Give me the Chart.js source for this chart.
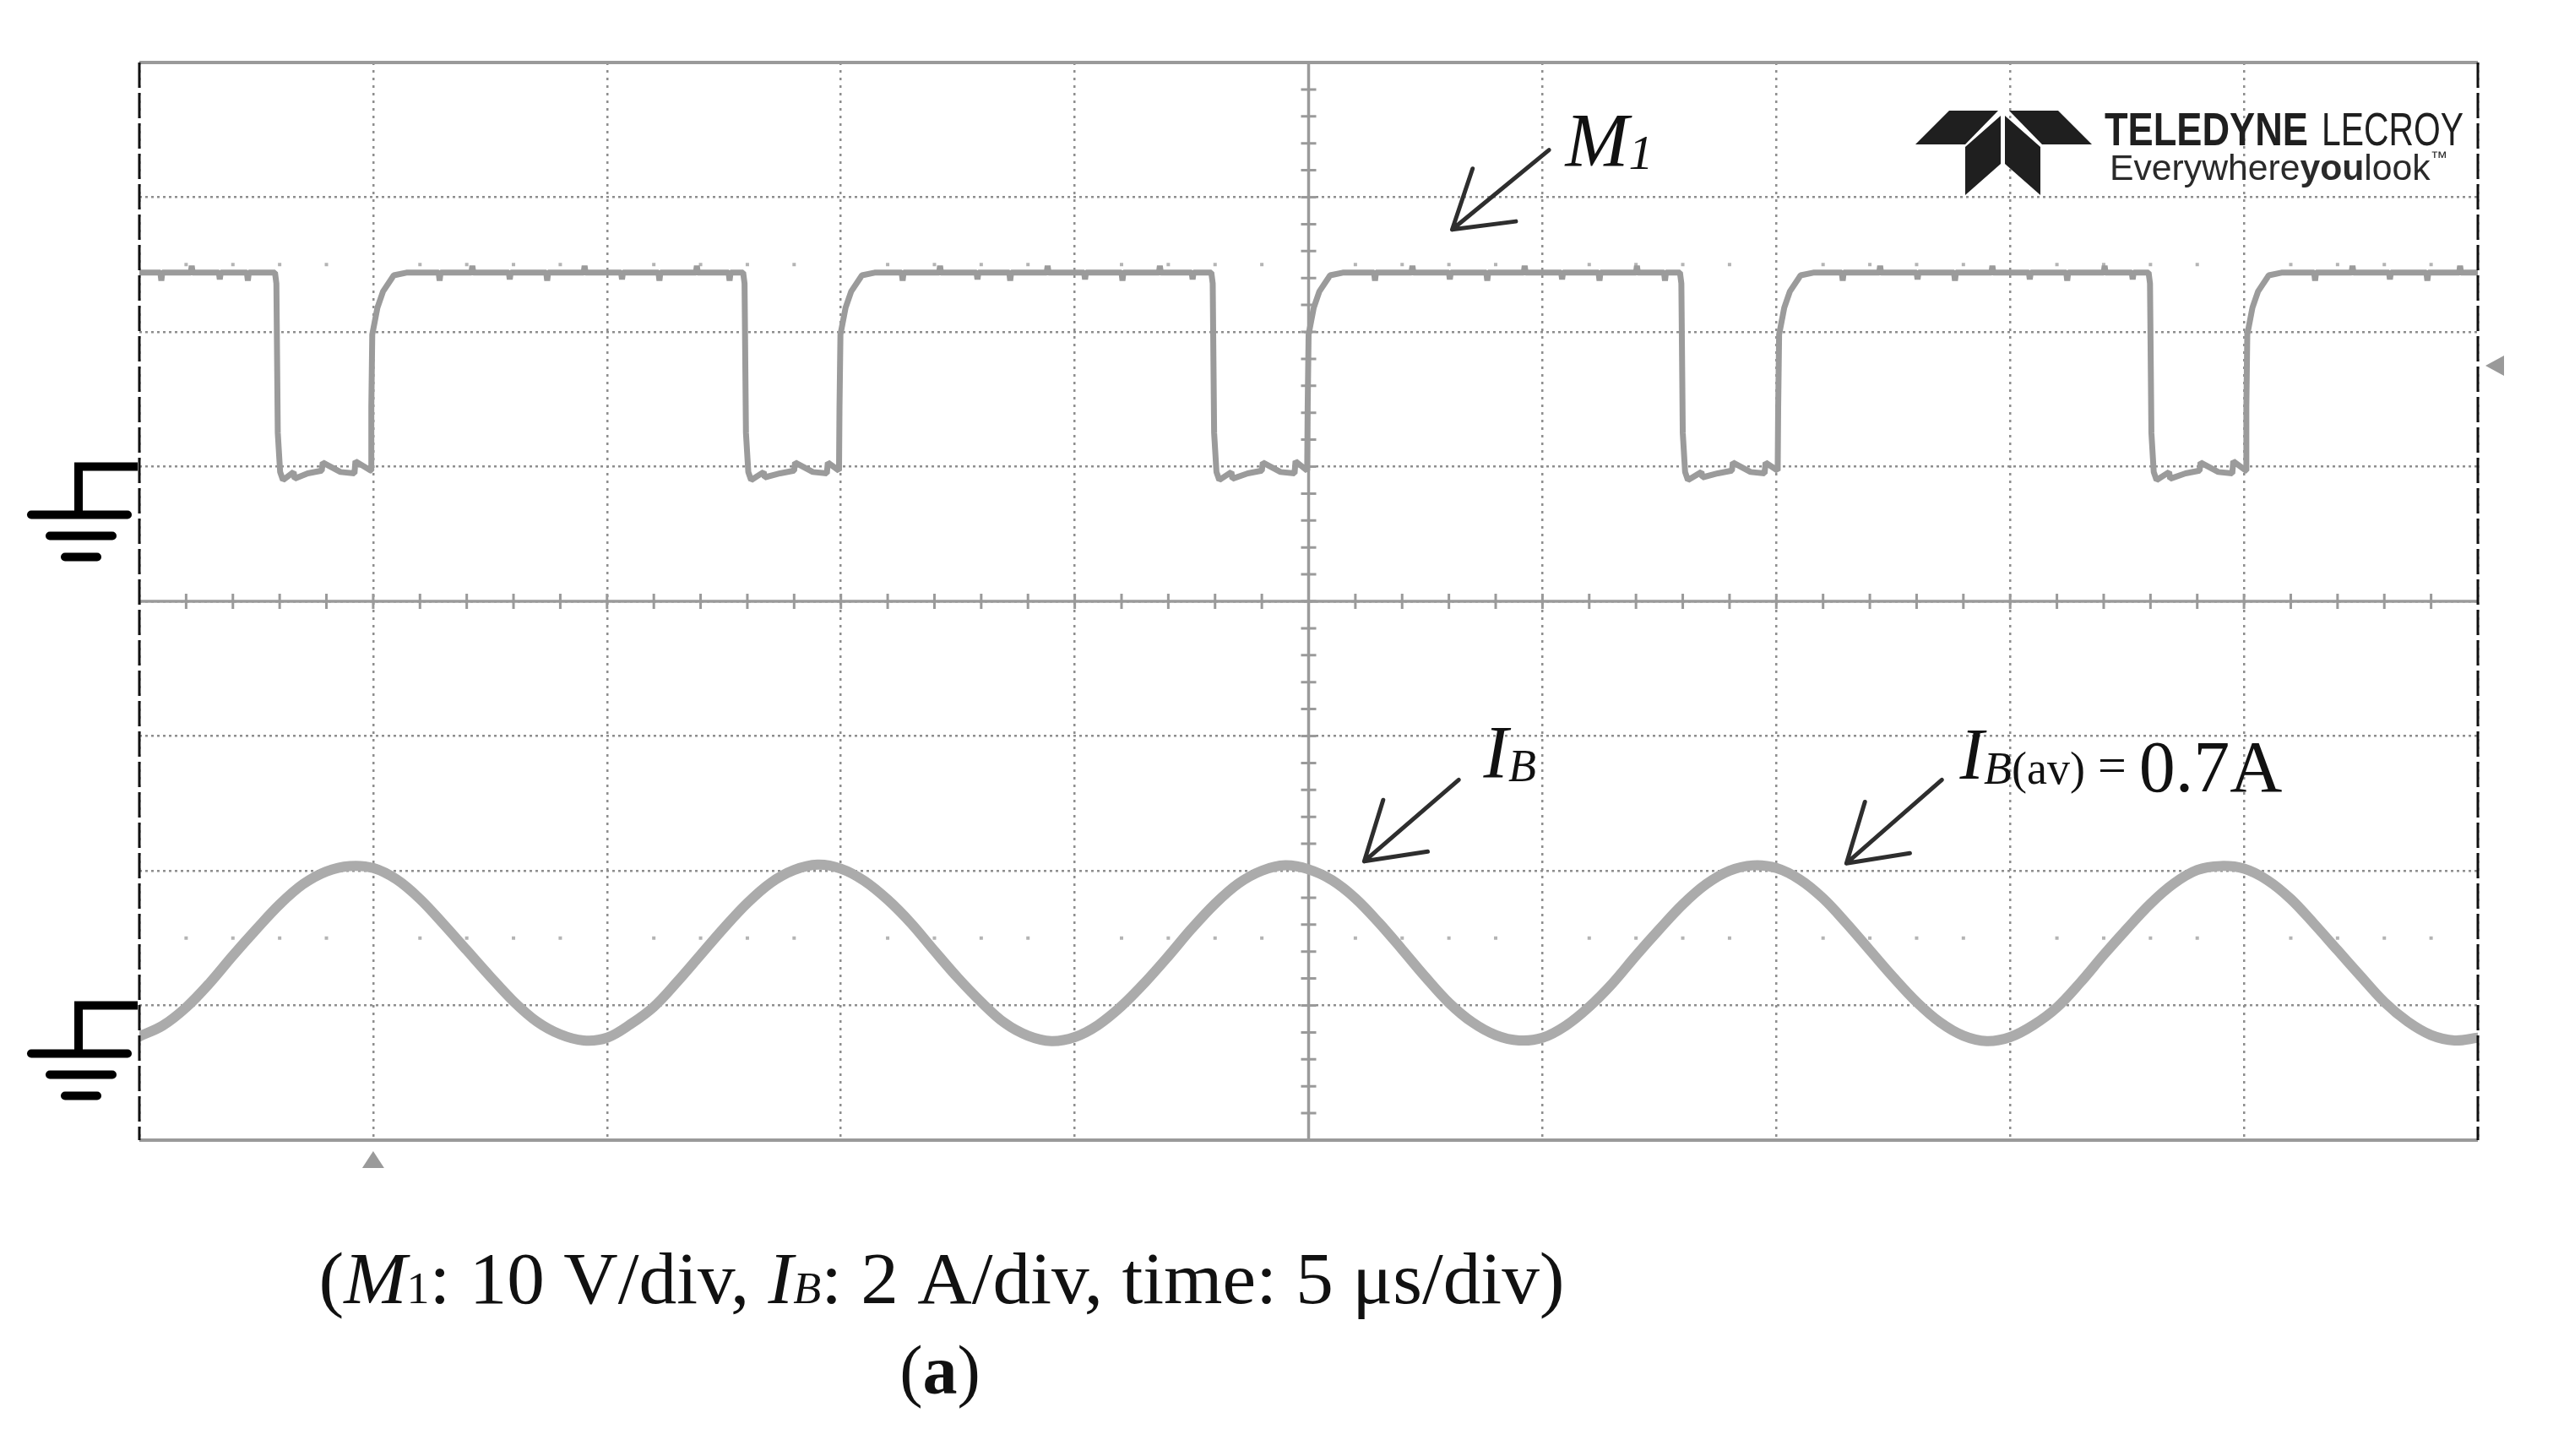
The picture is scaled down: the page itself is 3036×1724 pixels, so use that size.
<!DOCTYPE html>
<html>
<head>
<meta charset="utf-8">
<script src="https://cdn.jsdelivr.net/npm/chart.js@4.4.0/dist/chart.umd.min.js"></script>
<style>
    html, body { margin: 0; padding: 0; background: #fff; }
    #wrap { width: 3036px; height: 1724px; position: relative; }
</style>
</head>
<body>
<div id="wrap"><canvas id="scopeChart"></canvas></div>
<script>
// M1 trace: [time (µs), voltage (V)] (10 V/div)
const m1Trace = [
    [0, 14.4], [0.45, 14.4], [0.47, 13.8], [0.49, 14.4], [1.10, 14.4], [1.12, 14.9], [1.14, 14.4],
    [1.70, 14.4], [1.72, 13.9], [1.74, 14.4], [2.30, 14.4], [2.32, 13.8], [2.34, 14.4],
    [2.90, 14.4], [2.93, 13.6], [2.96, 2.5], [3.01, -0.4], [3.07, -1.0], [3.30, -0.4], [3.32, -0.9],
    [3.60, -0.5], [3.90, -0.3], [3.92, 0.3], [4.30, -0.4], [4.60, -0.5], [4.62, 0.4], [4.95, -0.3],
    [4.96, 4.4], [4.98, 9.8], [5.09, 11.8], [5.21, 13.0], [5.44, 14.2], [5.71, 14.4],
    [6.40, 14.4], [6.42, 13.8], [6.44, 14.4], [7.10, 14.4], [7.12, 14.9], [7.14, 14.4],
    [7.90, 14.4], [7.92, 13.9], [7.94, 14.4], [8.70, 14.4], [8.72, 13.8], [8.74, 14.4],
    [9.50, 14.4], [9.52, 14.9], [9.54, 14.4], [10.30, 14.4], [10.32, 13.9], [10.34, 14.4],
    [11.10, 14.4], [11.12, 13.8], [11.14, 14.4], [11.90, 14.4], [11.92, 14.9], [11.94, 14.4],
    [12.60, 14.4], [12.62, 13.8], [12.64, 14.4],
    [12.91, 14.4], [12.94, 13.6], [12.97, 2.5], [13.02, -0.4], [13.08, -1.0], [13.35, -0.4], [13.37, -0.8],
    [13.70, -0.5], [14.00, -0.3], [14.02, 0.3], [14.40, -0.4], [14.70, -0.5], [14.72, 0.3], [14.96, -0.3],
    [14.97, 4.4], [14.99, 9.8], [15.10, 11.8], [15.22, 13.0], [15.45, 14.2], [15.72, 14.4],
    [16.30, 14.4], [16.32, 13.8], [16.34, 14.4], [17.10, 14.4], [17.12, 14.9], [17.14, 14.4],
    [17.90, 14.4], [17.92, 13.9], [17.94, 14.4], [18.60, 14.4], [18.62, 13.8], [18.64, 14.4],
    [19.40, 14.4], [19.42, 14.9], [19.44, 14.4], [20.20, 14.4], [20.22, 13.9], [20.24, 14.4],
    [21.00, 14.4], [21.02, 13.8], [21.04, 14.4], [21.80, 14.4], [21.82, 14.9], [21.84, 14.4],
    [22.50, 14.4], [22.52, 13.9], [22.54, 14.4],
    [22.92, 14.4], [22.95, 13.6], [22.98, 2.5], [23.03, -0.4], [23.09, -1.0], [23.35, -0.4], [23.37, -0.9],
    [23.70, -0.5], [24.00, -0.3], [24.02, 0.3], [24.40, -0.4], [24.70, -0.5], [24.72, 0.4], [24.97, -0.3],
    [24.98, 4.4], [25.00, 9.8], [25.11, 11.8], [25.23, 13.0], [25.46, 14.2], [25.73, 14.4],
    [26.40, 14.4], [26.42, 13.8], [26.44, 14.4], [27.20, 14.4], [27.22, 14.9], [27.24, 14.4],
    [28.00, 14.4], [28.02, 13.9], [28.04, 14.4], [28.80, 14.4], [28.82, 13.8], [28.84, 14.4],
    [29.60, 14.4], [29.62, 14.9], [29.64, 14.4], [30.40, 14.4], [30.42, 13.9], [30.44, 14.4],
    [31.20, 14.4], [31.22, 13.8], [31.24, 14.4], [32.00, 14.4], [32.02, 14.9], [32.04, 14.4],
    [32.60, 14.4], [32.62, 13.8], [32.64, 14.4],
    [32.94, 14.4], [32.97, 13.6], [33.00, 2.5], [33.05, -0.4], [33.11, -1.0], [33.40, -0.4], [33.42, -0.8],
    [33.75, -0.5], [34.05, -0.3], [34.07, 0.3], [34.45, -0.4], [34.75, -0.5], [34.77, 0.3], [35.03, -0.3],
    [35.04, 4.4], [35.06, 9.8], [35.17, 11.8], [35.29, 13.0], [35.52, 14.2], [35.79, 14.4],
    [36.40, 14.4], [36.42, 13.8], [36.44, 14.4], [37.20, 14.4], [37.22, 14.9], [37.24, 14.4],
    [38.00, 14.4], [38.02, 13.9], [38.04, 14.4], [38.80, 14.4], [38.82, 13.8], [38.84, 14.4],
    [39.60, 14.4], [39.62, 14.9], [39.64, 14.4], [40.40, 14.4], [40.42, 13.9], [40.44, 14.4],
    [41.20, 14.4], [41.22, 13.8], [41.24, 14.4], [42.00, 14.4], [42.02, 14.9], [42.04, 14.4],
    [42.60, 14.4], [42.62, 13.9], [42.64, 14.4],
    [42.96, 14.4], [42.99, 13.6], [43.02, 2.5], [43.07, -0.4], [43.13, -1.0], [43.40, -0.4], [43.42, -0.9],
    [43.75, -0.5], [44.05, -0.3], [44.07, 0.3], [44.45, -0.4], [44.75, -0.5], [44.77, 0.4], [45.04, -0.3],
    [45.05, 4.4], [45.07, 9.8], [45.18, 11.8], [45.30, 13.0], [45.53, 14.2], [45.80, 14.4],
    [46.50, 14.4], [46.52, 13.8], [46.54, 14.4], [47.30, 14.4], [47.32, 14.9], [47.34, 14.4],
    [48.10, 14.4], [48.12, 13.9], [48.14, 14.4], [48.90, 14.4], [48.92, 13.8], [48.94, 14.4],
    [49.60, 14.4], [49.62, 14.9], [49.64, 14.4], [50, 14.4]
];

// IB trace (2 A/div), sampled every 0.5 µs
const ibTime = [
    0, 0.5, 1, 1.5, 2, 2.5, 3, 3.5, 4, 4.5, 5, 5.5, 6, 6.5, 7, 7.5, 8, 8.5, 9, 9.5,
    10, 10.5, 11, 11.5, 12, 12.5, 13, 13.5, 14, 14.5, 15, 15.5, 16, 16.5, 17, 17.5, 18, 18.5, 19, 19.5,
    20, 20.5, 21, 21.5, 22, 22.5, 23, 23.5, 24, 24.5, 25, 25.5, 26, 26.5, 27, 27.5, 28, 28.5, 29, 29.5,
    30, 30.5, 31, 31.5, 32, 32.5, 33, 33.5, 34, 34.5, 35, 35.5, 36, 36.5, 37, 37.5, 38, 38.5, 39, 39.5,
    40, 40.5, 41, 41.5, 42, 42.5, 43, 43.5, 44, 44.5, 45, 45.5, 46, 46.5, 47, 47.5, 48, 48.5, 49, 49.5,
    50
];
const ibAmp = [
    -0.46, -0.30, -0.03, 0.33, 0.74, 1.13, 1.50, 1.80, 1.99, 2.07, 2.04, 1.87, 1.58, 1.21, 0.82, 0.43, 0.06, -0.24, -0.43, -0.52,
    -0.48, -0.28, -0.02, 0.35, 0.75, 1.15, 1.52, 1.82, 2.01, 2.09, 2.03, 1.85, 1.57, 1.22, 0.81, 0.41, 0.05, -0.26, -0.45, -0.53,
    -0.47, -0.29, -0.01, 0.34, 0.73, 1.14, 1.51, 1.81, 2.00, 2.08, 2.02, 1.86, 1.59, 1.23, 0.83, 0.42, 0.04, -0.25, -0.44, -0.52,
    -0.48, -0.30, -0.02, 0.33, 0.74, 1.13, 1.50, 1.80, 2.00, 2.08, 2.04, 1.87, 1.59, 1.22, 0.82, 0.42, 0.05, -0.25, -0.45, -0.53,
    -0.47, -0.29, -0.03, 0.34, 0.75, 1.14, 1.51, 1.81, 2.01, 2.07, 2.03, 1.86, 1.58, 1.21, 0.82, 0.43, 0.05, -0.24, -0.44, -0.52,
    -0.48
];

// screen settings: 10 divisions of 5 µs, 8 divisions; M1 ground 1 div above centre, IB ground 3 div below
const timeRange = [0, 50];
const m1Range = [-50, 30];     // V
const ibRange = [-2, 14];      // A
const triggerLevel = 7.5;      // V on M1
const triggerTime = 5;         // µs

const SERIF = '"Liberation Serif", "Times New Roman", serif';
const SANS = '"Liberation Sans", Arial, sans-serif';

function drawRuns(ctx, runs, x, y, align, fitWidth) {
    let total = 0;
    runs.forEach(r => { ctx.font = r.font; r.w = ctx.measureText(r.text).width; total += r.w; });
    const k = fitWidth ? fitWidth / total : 1;
    ctx.save();
    ctx.translate(align === "center" ? x - total * k / 2 : x, y);
    ctx.scale(k, 1);
    let cx = 0;
    runs.forEach(r => { ctx.font = r.font; ctx.fillText(r.text, cx, r.dy || 0); cx += r.w; });
    ctx.restore();
}

function drawArrow(ctx, x1, y1, x2, y2) {
    // x1,y1 tail ; x2,y2 tip
    const ang = Math.atan2(y1 - y2, x1 - x2);
    const len = 76, spread = 0.56;
    ctx.beginPath();
    ctx.moveTo(x1, y1);
    ctx.lineTo(x2, y2);
    ctx.moveTo(x2 + len * Math.cos(ang - spread), y2 + len * Math.sin(ang - spread));
    ctx.lineTo(x2, y2);
    ctx.lineTo(x2 + len * Math.cos(ang + spread), y2 + len * Math.sin(ang + spread));
    ctx.stroke();
}

function drawGround(ctx, left, y) {
    ctx.save();
    ctx.strokeStyle = "#000";
    ctx.lineWidth = 10;
    ctx.lineCap = "butt";
    ctx.beginPath();
    ctx.moveTo(left - 2, y);
    ctx.lineTo(left - 72, y);
    ctx.lineTo(left - 72, y + 57);
    ctx.stroke();
    ctx.lineCap = "round";
    [[-128, -14, 57], [-106, -32, 82], [-88, -50, 107]].forEach(b => {
        ctx.beginPath();
        ctx.moveTo(left + b[0], y + b[2]);
        ctx.lineTo(left + b[1], y + b[2]);
        ctx.stroke();
    });
    ctx.restore();
}

function drawLogo(ctx, ox, oy, right) {
    ctx.save();
    ctx.fillStyle = "#1f1f1f";
    const poly = pts => {
        ctx.beginPath();
        pts.forEach((p, i) => i ? ctx.lineTo(ox + p[0], oy + p[1]) : ctx.moveTo(ox + p[0], oy + p[1]));
        ctx.closePath();
        ctx.fill();
    };
    poly([[-104, 40], [-64, 0], [-6, 0], [-45, 40]]);
    poly([[-45, 43], [-3, 6], [-3, 63], [-45, 100]]);
    poly([[2, 6], [44, 43], [44, 100], [2, 63]]);
    poly([[7, 0], [65, 0], [105, 40], [46, 40]]);

    // brand text, squeezed to the narrow face of the original
    const fitText = (txt, font, x, y, w) => {
        ctx.font = font;
        const m = ctx.measureText(txt).width;
        ctx.save();
        ctx.translate(x, y);
        ctx.scale(w / m, 1);
        ctx.fillText(txt, 0, 0);
        ctx.restore();
    };
    fitText("TELEDYNE", "bold 56px " + SANS, right - 442, oy + 41, 241);
    fitText("LECROY", "56px " + SANS, right - 185, oy + 41, 168);

    ctx.fillStyle = "#2a2a2a";
    drawRuns(ctx, [
        { text: "Everywhere", font: "42px " + SANS },
        { text: "you", font: "bold 42px " + SANS },
        { text: "look", font: "42px " + SANS },
        { text: "™", font: "20px " + SANS, dy: -20 }
    ], right - 436, oy + 82, "left", 400);
    ctx.restore();
}

const scopePlugin = {
    id: "scope",
    beforeDatasetsDraw(chart) {
        const ctx = chart.ctx;
        const { left, right, top, bottom } = chart.chartArea;
        const xs = chart.scales.x, ym = chart.scales.yM;
        const xc = xs.getPixelForValue((timeRange[0] + timeRange[1]) / 2);
        const yc = ym.getPixelForValue((m1Range[0] + m1Range[1]) / 2);
        ctx.save();
        // faint sub-division dot rows
        ctx.fillStyle = "#b4b4b4";
        [15, -35].forEach(v => {
            const y = ym.getPixelForValue(v);
            for (let t = timeRange[0] + 1; t < timeRange[1]; t++) {
                if (t % 5 === 0) continue;
                ctx.fillRect(xs.getPixelForValue(t) - 2, y - 2, 4, 4);
            }
        });
        // centre axes with minor ticks
        ctx.strokeStyle = "#9a9a9a";
        ctx.lineWidth = 3.5;
        ctx.beginPath();
        ctx.moveTo(left, yc); ctx.lineTo(right, yc);
        ctx.moveTo(xc, top); ctx.lineTo(xc, bottom);
        ctx.stroke();
        ctx.lineWidth = 3;
        ctx.beginPath();
        for (let t = timeRange[0] + 1; t < timeRange[1]; t++) {
            const x = xs.getPixelForValue(t);
            ctx.moveTo(x, yc - 9); ctx.lineTo(x, yc + 9);
        }
        for (let v = m1Range[0] + 2; v < m1Range[1]; v += 2) {
            const y = ym.getPixelForValue(v);
            ctx.moveTo(xc - 9, y); ctx.lineTo(xc + 9, y);
        }
        ctx.stroke();
        ctx.restore();
    },
    afterDatasetsDraw(chart) {
        const ctx = chart.ctx;
        const { left, right, top, bottom } = chart.chartArea;
        const xs = chart.scales.x, ym = chart.scales.yM, yi = chart.scales.yI;
        ctx.save();

        // frame
        ctx.strokeStyle = "#9a9a9a";
        ctx.lineWidth = 4;
        ctx.beginPath();
        ctx.moveTo(left, top); ctx.lineTo(right, top);
        ctx.moveTo(left, bottom); ctx.lineTo(right, bottom);
        ctx.stroke();
        ctx.strokeStyle = "#111";
        ctx.lineWidth = 3;
        ctx.setLineDash([30, 6]);
        ctx.beginPath();
        ctx.moveTo(left, top); ctx.lineTo(left, bottom);
        ctx.moveTo(right, top); ctx.lineTo(right, bottom);
        ctx.stroke();
        ctx.setLineDash([]);

        // ground references
        drawGround(ctx, left, ym.getPixelForValue(0));
        drawGround(ctx, left, yi.getPixelForValue(0));

        // trigger markers
        ctx.fillStyle = "#9a9a9a";
        const ty = ym.getPixelForValue(triggerLevel);
        ctx.beginPath();
        ctx.moveTo(right + 9, ty); ctx.lineTo(right + 31, ty - 12); ctx.lineTo(right + 31, ty + 12);
        ctx.closePath(); ctx.fill();
        const tx = xs.getPixelForValue(triggerTime);
        ctx.beginPath();
        ctx.moveTo(tx, bottom + 13); ctx.lineTo(tx - 13, bottom + 33); ctx.lineTo(tx + 13, bottom + 33);
        ctx.closePath(); ctx.fill();

        drawLogo(ctx, right - 562, top + 57, right);

        // annotation arrows
        ctx.strokeStyle = "#2e2e2e";
        ctx.lineWidth = 5;
        ctx.lineCap = "round";
        ctx.lineJoin = "round";
        drawArrow(ctx, xs.getPixelForValue(30.14), ym.getPixelForValue(23.5), xs.getPixelForValue(28.07), ym.getPixelForValue(17.6));
        drawArrow(ctx, xs.getPixelForValue(28.21), yi.getPixelForValue(3.35), xs.getPixelForValue(26.19), yi.getPixelForValue(2.14));
        drawArrow(ctx, xs.getPixelForValue(38.54), yi.getPixelForValue(3.35), xs.getPixelForValue(36.50), yi.getPixelForValue(2.11));

        // annotation labels
        ctx.fillStyle = "#111";
        ctx.textBaseline = "alphabetic";
        drawRuns(ctx, [
            { text: "M", font: "italic 90px " + SERIF },
            { text: "1", font: "italic 58px " + SERIF, dy: 3 }
        ], xs.getPixelForValue(30.49), ym.getPixelForValue(22.29));
        drawRuns(ctx, [
            { text: "I", font: "italic 88px " + SERIF },
            { text: "B", font: "italic 54px " + SERIF, dy: 5 }
        ], xs.getPixelForValue(28.74), yi.getPixelForValue(3.39));
        drawRuns(ctx, [
            { text: "I", font: "italic 86px " + SERIF },
            { text: "B", font: "italic 54px " + SERIF, dy: 6 },
            { text: "(av)", font: "54px " + SERIF, dy: 6 },
            { text: " = ", font: "60px " + SERIF, dy: 4 },
            { text: "0.7A", font: "86px " + SERIF, dy: 15 }
        ], xs.getPixelForValue(38.92), yi.getPixelForValue(3.37));

        // caption
        ctx.fillStyle = "#111";
        drawRuns(ctx, [
            { text: "(", font: "86px " + SERIF },
            { text: "M", font: "italic 86px " + SERIF },
            { text: "1", font: "52px " + SERIF },
            { text: ": 10 V/div, ", font: "86px " + SERIF },
            { text: "I", font: "italic 86px " + SERIF },
            { text: "B", font: "italic 52px " + SERIF },
            { text: ": 2 A/div, time: 5 μs/div)", font: "86px " + SERIF }
        ], 1115, 1543, "center", 1475);
        drawRuns(ctx, [
            { text: "(", font: "82px " + SERIF },
            { text: "a", font: "bold 82px " + SERIF },
            { text: ")", font: "82px " + SERIF }
        ], 1113, 1650, "center");
        ctx.restore();
    }
};

document.addEventListener("DOMContentLoaded", function () {
    const ctx = document.getElementById("scopeChart").getContext("2d");
    const gridDots = { color: "#8e8e8e", lineWidth: 2.5, drawTicks: false };

    new Chart(ctx, {
        type: "line",
        data: {
            datasets: [{
                label: "M1",
                data: m1Trace.map(p => ({ x: p[0], y: p[1] })),
                yAxisID: "yM",
                borderColor: "#9b9b9b",
                borderWidth: 7,
                borderJoinStyle: "bevel",
                pointRadius: 0,
                tension: 0
            }, {
                label: "IB",
                data: ibTime.map((t, i) => ({ x: t, y: ibAmp[i] })),
                yAxisID: "yI",
                borderColor: "#ababab",
                borderWidth: 12,
                borderJoinStyle: "round",
                borderCapStyle: "round",
                pointRadius: 0,
                tension: 0.35
            }]
        },
        options: {
            responsive: true,
            maintainAspectRatio: false,
            animation: false,
            devicePixelRatio: 1,
            layout: { padding: { left: 165, right: 102, top: 74, bottom: 374 } },
            plugins: { legend: { display: false }, tooltip: { enabled: false } },
            scales: {
                x: {
                    type: "linear",
                    min: timeRange[0], max: timeRange[1],
                    ticks: { display: false, stepSize: 5 },
                    grid: gridDots,
                    border: { display: false, dash: [3, 6] }
                },
                yM: {
                    type: "linear", position: "left",
                    min: m1Range[0], max: m1Range[1],
                    ticks: { display: false, stepSize: 10 },
                    grid: gridDots,
                    border: { display: false, dash: [3, 4] }
                },
                yI: {
                    type: "linear", position: "right", display: false,
                    min: ibRange[0], max: ibRange[1],
                    ticks: { stepSize: 2 }
                }
            }
        },
        plugins: [scopePlugin]
    });
});
</script>
</body>
</html>
